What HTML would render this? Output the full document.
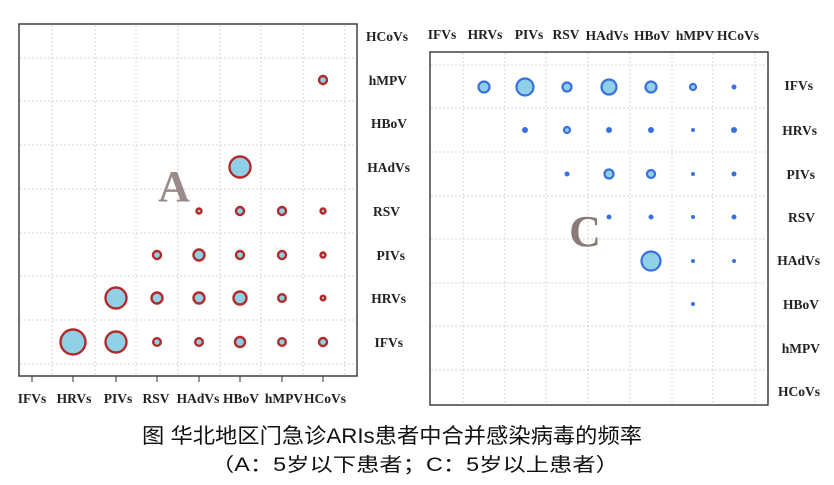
<!DOCTYPE html>
<html><head><meta charset="utf-8"><style>
html,body{margin:0;padding:0;background:#fff;}
svg{display:block;}
.lbl{font-family:"Liberation Serif",serif;font-weight:bold;font-size:13.5px;fill:#222;}
.cap{font-family:"Liberation Sans","WenQuanYi Zen Hei",sans-serif;fill:#111;}
</style></head><body>
<svg width="834" height="485" viewBox="0 0 834 485" xmlns="http://www.w3.org/2000/svg">
<g stroke="#d4d4d4" stroke-width="1" stroke-dasharray="2,2">
<line x1="52" y1="25" x2="52" y2="375"/><line x1="95" y1="25" x2="95" y2="375"/><line x1="136" y1="25" x2="136" y2="375"/><line x1="178" y1="25" x2="178" y2="375"/><line x1="220" y1="25" x2="220" y2="375"/><line x1="261" y1="25" x2="261" y2="375"/><line x1="303" y1="25" x2="303" y2="375"/><line x1="345" y1="25" x2="345" y2="375"/>
<line x1="20" y1="58" x2="356" y2="58"/><line x1="20" y1="101" x2="356" y2="101"/><line x1="20" y1="145" x2="356" y2="145"/><line x1="20" y1="189" x2="356" y2="189"/><line x1="20" y1="233" x2="356" y2="233"/><line x1="20" y1="276" x2="356" y2="276"/><line x1="20" y1="320" x2="356" y2="320"/><line x1="20" y1="364" x2="356" y2="364"/>
</g>
<rect x="19" y="24" width="338" height="352" fill="none" stroke="#333" stroke-width="1.4"/>
<g stroke="#333"><line x1="32" y1="376" x2="32" y2="382"/><line x1="73" y1="376" x2="73" y2="382"/><line x1="116" y1="376" x2="116" y2="382"/><line x1="157" y1="376" x2="157" y2="382"/><line x1="199" y1="376" x2="199" y2="382"/><line x1="240" y1="376" x2="240" y2="382"/><line x1="282" y1="376" x2="282" y2="382"/><line x1="323" y1="376" x2="323" y2="382"/></g>
<text x="174" y="201" font-family="Liberation Serif,serif" font-weight="bold" font-size="44" fill="#9a8a8a" text-anchor="middle">A</text>
<g fill="#8fd0e6" stroke="#b22a2a" stroke-width="2.4">
<circle cx="73" cy="342" r="12.5"/><circle cx="116" cy="342" r="10.5"/><circle cx="157" cy="342" r="3.8"/><circle cx="199" cy="342" r="3.8"/><circle cx="240" cy="342" r="5"/><circle cx="282" cy="342" r="3.8"/><circle cx="323" cy="342" r="4"/>
<circle cx="116" cy="298" r="10.5"/><circle cx="157" cy="298" r="5.5"/><circle cx="199" cy="298" r="5.5"/><circle cx="240" cy="298" r="6.5"/><circle cx="282" cy="298" r="3.8"/><circle cx="323" cy="298" r="2.3"/>
<circle cx="157" cy="255" r="4"/><circle cx="199" cy="255" r="5.5"/><circle cx="240" cy="255" r="4"/><circle cx="282" cy="255" r="4"/><circle cx="323" cy="255" r="2.5"/>
<circle cx="199" cy="211" r="2.5"/><circle cx="240" cy="211" r="4"/><circle cx="282" cy="211" r="4"/><circle cx="323" cy="211" r="2.5"/>
<circle cx="240" cy="167" r="10.5"/><circle cx="323" cy="80" r="4"/>
</g>
<g class="lbl" text-anchor="middle">
<text x="32" y="403">IFVs</text><text x="74" y="403">HRVs</text><text x="118" y="403">PIVs</text><text x="156" y="403">RSV</text><text x="198" y="403">HAdVs</text><text x="241" y="403">HBoV</text><text x="284" y="403">hMPV</text><text x="325" y="403">HCoVs</text>
</g>
<g class="lbl" text-anchor="end">
<text x="408" y="41">HCoVs</text><text x="407" y="85">hMPV</text><text x="407" y="128">HBoV</text><text x="410" y="172">HAdVs</text><text x="400" y="216">RSV</text><text x="405" y="260">PIVs</text><text x="406" y="303">HRVs</text><text x="403" y="347">IFVs</text>
</g>

<g stroke="#d4d4d4" stroke-width="1" stroke-dasharray="2,2">
<line x1="463" y1="53" x2="463" y2="404"/><line x1="505" y1="53" x2="505" y2="404"/><line x1="546" y1="53" x2="546" y2="404"/><line x1="588" y1="53" x2="588" y2="404"/><line x1="630" y1="53" x2="630" y2="404"/><line x1="672" y1="53" x2="672" y2="404"/><line x1="713" y1="53" x2="713" y2="404"/><line x1="755" y1="53" x2="755" y2="404"/>
<line x1="431" y1="65" x2="767" y2="65"/><line x1="431" y1="108" x2="767" y2="108"/><line x1="431" y1="152" x2="767" y2="152"/><line x1="431" y1="196" x2="767" y2="196"/><line x1="431" y1="239" x2="767" y2="239"/><line x1="431" y1="283" x2="767" y2="283"/><line x1="431" y1="326" x2="767" y2="326"/><line x1="431" y1="370" x2="767" y2="370"/>
</g>
<rect x="430" y="52" width="338" height="353" fill="none" stroke="#333" stroke-width="1.4"/>
<text x="585" y="246" font-family="Liberation Serif,serif" font-weight="bold" font-size="44" fill="#8a7a78" text-anchor="middle">C</text>
<g fill="#8fd0e6" stroke="#3a6fe0" stroke-width="2.2">
<circle cx="484" cy="87" r="5.5"/><circle cx="525" cy="87" r="8.5"/><circle cx="567" cy="87" r="4.5"/><circle cx="609" cy="87" r="7.5"/><circle cx="651" cy="87" r="5.5"/><circle cx="693" cy="87" r="3"/>
<circle cx="651" cy="261" r="9.5"/><circle cx="567" cy="130" r="3"/><circle cx="609" cy="174" r="4.5"/><circle cx="651" cy="174" r="4"/>
</g>
<g fill="#3a6fe0">
<circle cx="734" cy="87" r="2.5"/>
<circle cx="525" cy="130" r="3"/><circle cx="609" cy="130" r="3"/><circle cx="651" cy="130" r="3"/><circle cx="693" cy="130" r="2"/><circle cx="734" cy="130" r="3"/>
<circle cx="567" cy="174" r="2.5"/><circle cx="693" cy="174" r="2"/><circle cx="734" cy="174" r="2.5"/>
<circle cx="609" cy="217" r="2.5"/><circle cx="651" cy="217" r="2.5"/><circle cx="693" cy="217" r="2"/><circle cx="734" cy="217" r="2.5"/>
<circle cx="693" cy="261" r="2"/><circle cx="734" cy="261" r="2"/><circle cx="693" cy="304" r="2"/>
</g>
<g class="lbl" text-anchor="middle">
<text x="442" y="39">IFVs</text><text x="485" y="39">HRVs</text><text x="529" y="39">PIVs</text><text x="566" y="39">RSV</text><text x="607" y="40">HAdVs</text><text x="652" y="40">HBoV</text><text x="695" y="40">hMPV</text><text x="738" y="40">HCoVs</text>
</g>
<g class="lbl" text-anchor="end">
<text x="813" y="90">IFVs</text><text x="817" y="135">HRVs</text><text x="815" y="179">PIVs</text><text x="815" y="222">RSV</text><text x="820" y="265">HAdVs</text><text x="819" y="309">HBoV</text><text x="820" y="353">hMPV</text><text x="820" y="396">HCoVs</text>
</g>
<text class="cap" x="392" y="443" font-size="21" textLength="500" lengthAdjust="spacingAndGlyphs" text-anchor="middle">图 华北地区门急诊ARIs患者中合并感染病毒的频率</text>
<text class="cap" x="415" y="471" font-size="19" textLength="408" lengthAdjust="spacingAndGlyphs" text-anchor="middle">（A：5岁以下患者；C：5岁以上患者）</text>
</svg>
</body></html>
